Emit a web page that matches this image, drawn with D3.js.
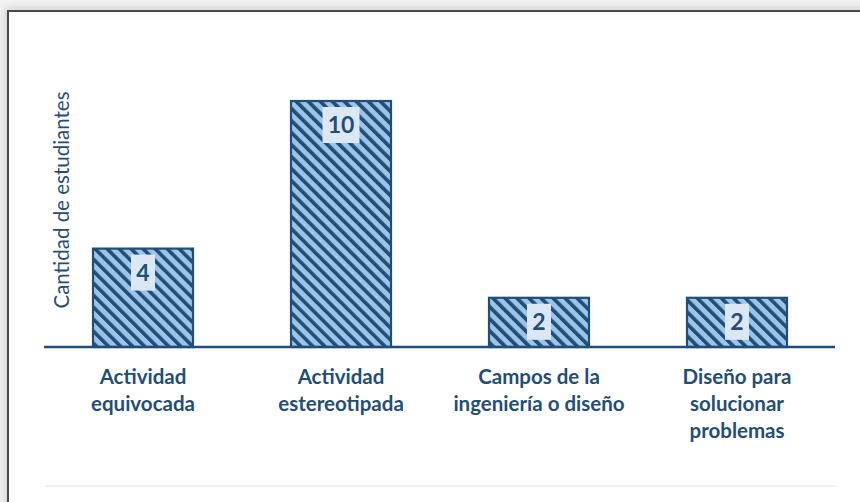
<!DOCTYPE html>
<html lang="es">
<head>
<meta charset="UTF-8">
<title>Cantidad de estudiantes</title>
<style>
    html, body { margin: 0; padding: 0; background: #f3f3f3; }
    #page {
        position: absolute;
        left: 7px; top: 10px;
        width: 880px; height: 520px;
        background: white;
        border-left: 2px solid #4a4a4a;
        border-top: 2px solid #4a4a4a;
        box-shadow: -3px -3px 8px rgba(0,0,0,0.12);
    }
    svg { position: absolute; left: 0; top: 0; }
</style>
<script src="https://d3js.org/d3.v7.min.js"></script>
</head>
<body>
<div id="page"></div>
<svg id="svg" width="860" height="502"></svg>
<script>
    const categories = [
        ['Actividad', 'equivocada'],
        ['Actividad', 'estereotipada'],
        ['Campos de la', 'ingeniería o diseño'],
        ['Diseño para', 'solucionar', 'problemas']
    ];
    const values = [4, 10, 2, 2];
    const yTitle = 'Cantidad de estudiantes';

    const dark = '#1f4e79';
    const light = '#9dc3e6';
    const font = 'Lato, "Open Sans", sans-serif';
    const svg = d3.select('#svg');

    // hatch pattern
    const pat = svg.append('defs').append('pattern')
        .attr('id', 'hatch')
        .attr('patternUnits', 'userSpaceOnUse')
        .attr('width', 8.5).attr('height', 8.5)
        .attr('patternTransform', 'rotate(-45)');
    pat.append('rect').attr('width', 8.5).attr('height', 8.5).attr('fill', light);
    pat.append('rect').attr('width', 3.6).attr('height', 8.5).attr('fill', dark);

    const x = d3.scaleBand()
        .domain(d3.range(values.length))
        .range([44, 836])
        .paddingInner(0.495)
        .paddingOuter(0.2475);
    const y = d3.scaleLinear().domain([0, 10]).range([347, 101]);

    // bottom faint line
    svg.append('line')
        .attr('x1', 45).attr('x2', 836)
        .attr('y1', 486).attr('y2', 486)
        .attr('stroke', '#e3e3e3').attr('stroke-width', 1.2);

    svg.selectAll('rect.bar')
        .data(values)
        .enter()
        .append('rect')
        .attr('class', 'bar')
        .attr('x', (d, i) => x(i))
        .attr('y', d => y(d))
        .attr('width', x.bandwidth())
        .attr('height', d => y(0) - y(d))
        .attr('fill', 'url(#hatch)')
        .attr('stroke', dark)
        .attr('stroke-width', 2.2);

    // axis line
    svg.append('line')
        .attr('x1', 44).attr('x2', 835)
        .attr('y1', y(0)).attr('y2', y(0))
        .attr('stroke', dark).attr('stroke-width', 2.4);

    // value labels
    const lab = svg.selectAll('g.val')
        .data(values)
        .enter()
        .append('g')
        .attr('class', 'val')
        .attr('transform', (d, i) => 'translate(' + (x(i) + x.bandwidth() / 2) + ',' + (y(d) + 24) + ')');
    lab.append('rect')
        .attr('x', d => d >= 10 ? -18.5 : -12)
        .attr('y', -18)
        .attr('width', d => d >= 10 ? 37 : 24)
        .attr('height', 36)
        .attr('fill', '#dbe8f4');
    lab.append('text')
        .attr('text-anchor', 'middle')
        .attr('dy', '0.36em')
        .attr('font-family', font)
        .attr('font-weight', 'bold')
        .attr('font-size', 23)
        .attr('fill', dark)
        .text(d => d);

    // category labels
    svg.selectAll('text.cat')
        .data(categories)
        .enter()
        .append('text')
        .attr('class', 'cat')
        .attr('text-anchor', 'middle')
        .attr('font-family', font)
        .attr('font-weight', 'bold')
        .attr('font-size', 20.5)
        .attr('fill', dark)
        .each(function (d, i) {
            d3.select(this).selectAll('tspan')
                .data(d)
                .enter()
                .append('tspan')
                .attr('x', x(i) + x.bandwidth() / 2)
                .attr('y', (t, j) => 384 + j * 27)
                .text(t => t);
        });

    // y title
    svg.append('text')
        .attr('transform', 'translate(69,200) rotate(-90)')
        .attr('text-anchor', 'middle')
        .attr('font-family', font)
        .attr('font-size', 20.5)
        .attr('fill', dark)
        .text(yTitle);
</script>
</body>
</html>
